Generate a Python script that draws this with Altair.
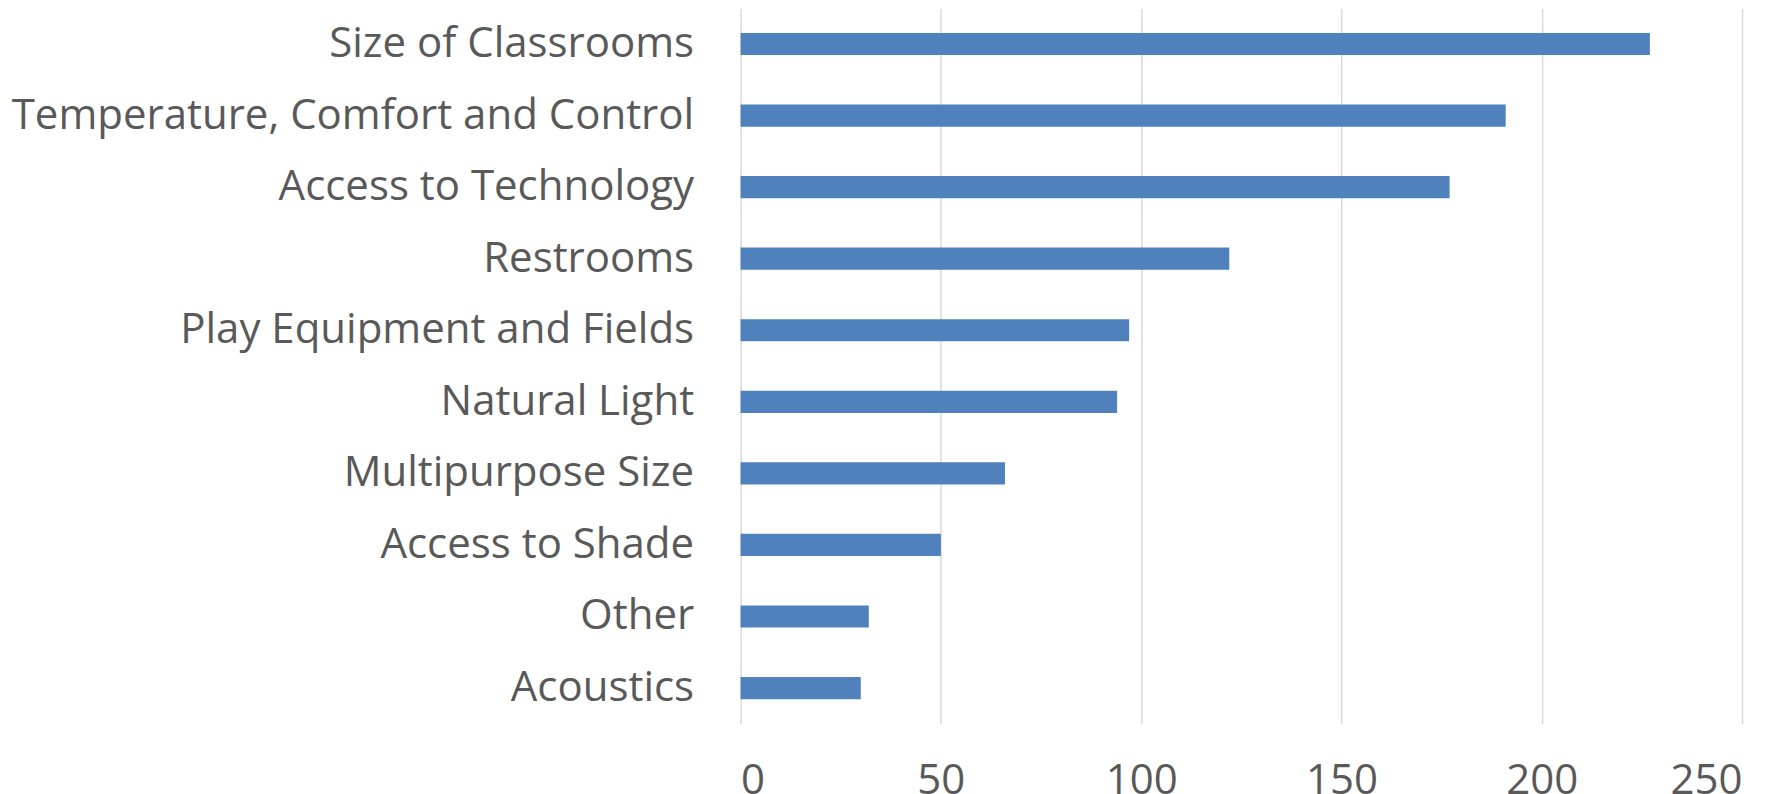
import altair as alt
import pandas as pd

categories = [
    "Size of Classrooms",
    "Temperature, Comfort and Control",
    "Access to Technology",
    "Restrooms",
    "Play Equipment and Fields ",
    "Natural Light",
    "Multipurpose Size",
    "Access to Shade",
    "Other",
    "Acoustics",
]
values = [227, 191, 177, 122, 97, 94, 66, 50, 32, 30]
x_ticks = [0, 50, 100, 150, 200, 250]

df = pd.DataFrame({"category": categories, "value": values})

chart = (
    alt.Chart(df)
    .mark_bar(color="#4F81BD")
    .encode(
        x=alt.X(
            "value:Q",
            scale=alt.Scale(domain=[0, 250], nice=False),
            axis=alt.Axis(
                values=x_ticks,
                title=None,
                domain=False,
                ticks=False,
                grid=True,
                gridColor="#d9d9d9",
                gridWidth=1.5,
                labelFont="Open Sans",
                labelFontSize=42,
                labelColor="#595959",
                labelPadding=37,
            ),
        ),
        y=alt.Y(
            "category:N",
            sort=categories,
            scale=alt.Scale(paddingInner=0.69, paddingOuter=0.345),
            axis=alt.Axis(
                title=None,
                domain=False,
                ticks=False,
                grid=False,
                labelFont="Open Sans",
                labelFontSize=42,
                labelColor="#595959",
                labelPadding=47,
                labelLimit=1000,
            ),
        ),
    )
    .properties(
        width=1002,
        height=716,
        autosize=alt.AutoSizeParams(type="none"),
        padding={"left": 733, "top": 0, "right": 40, "bottom": 78},
        background="white",
    )
    .configure_view(strokeWidth=0, stroke="transparent")
)

chart.save("out.html", embed_options={"renderer": "svg", "actions": False})
